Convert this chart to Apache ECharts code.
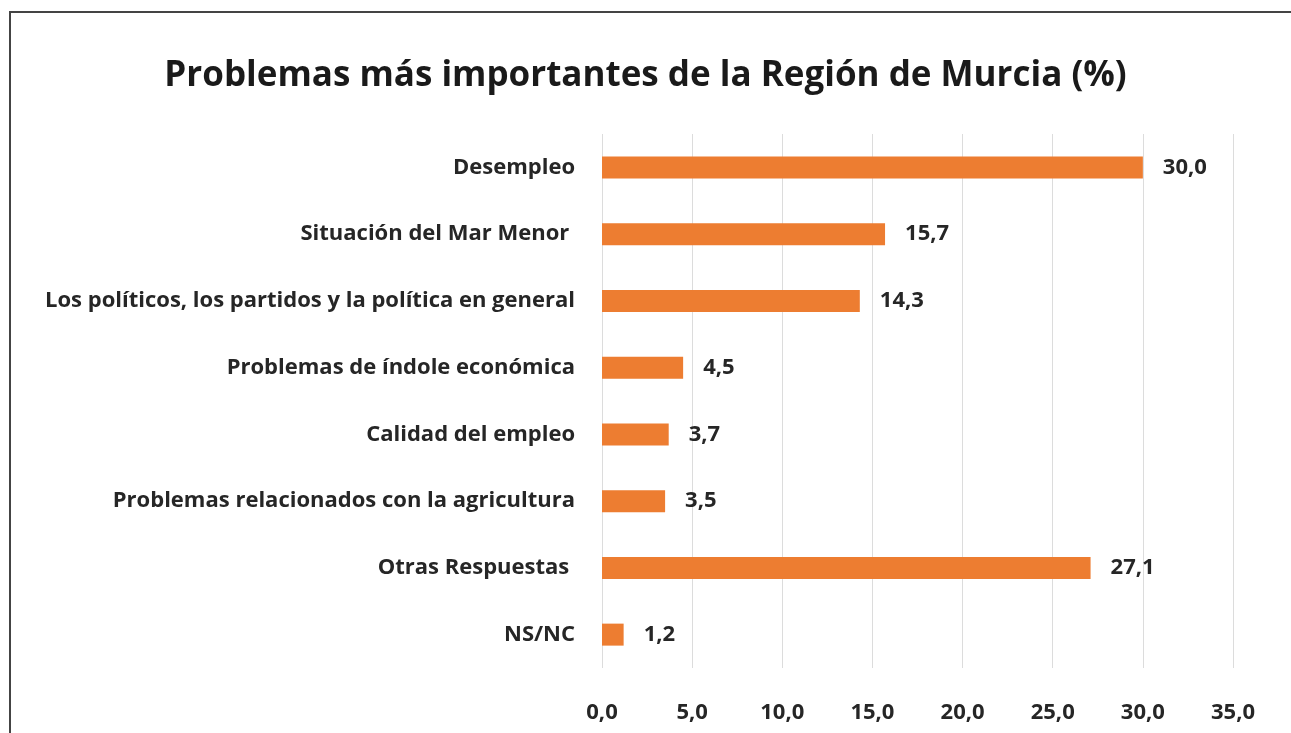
<!DOCTYPE html>
<html>
<head>
<meta charset="utf-8">
<script src="https://cdn.jsdelivr.net/npm/echarts@6/dist/echarts.min.js"></script>
<style>
  html, body { margin: 0; padding: 0; background: #fff; }
  #chart { width: 1291px; height: 733px; }
  #frame { position: absolute; left: 9px; top: 11px; width: 1290px; height: 730px;
    border-left: 2px solid #444; border-top: 2px solid #444; pointer-events: none; }
</style>
</head>
<body>
<div id="chart"></div>
<div id="frame"></div>
<script>
const categories = [
  'Desempleo',
  'Situación del Mar Menor ',
  'Los políticos, los partidos y la política en general',
  'Problemas de índole económica',
  'Calidad del empleo',
  'Problemas relacionados con la agricultura',
  'Otras Respuestas ',
  'NS/NC',
];
const values = [30.0, 15.7, 14.3, 4.5, 3.7, 3.5, 27.1, 1.2];
const tickMin = 0;
const tickMax = 35;
const tickStep = 5;

const fmt = (v) => Number(v).toFixed(1).replace('.', ',');
const font = '"Open Sans", "Noto Sans", sans-serif';

const chart = echarts.init(document.getElementById('chart'));
chart.setOption({
  animation: false,
  title: {
    text: 'Problemas más importantes de la Región de Murcia (%)',
    left: 'center',
    top: 54,
    textStyle: { fontFamily: font, fontSize: 35, fontWeight: 'bold', color: '#1a1a1a' },
  },
  grid: { left: 602, right: 58, top: 134, bottom: 65, containLabel: false },
  xAxis: {
    type: 'value',
    min: tickMin,
    max: tickMax,
    interval: tickStep,
    axisLine: { show: false },
    axisTick: { show: false },
    splitLine: { lineStyle: { color: '#dcdcdc', width: 1 } },
    axisLabel: {
      formatter: fmt,
      margin: 34,
      fontFamily: font, fontSize: 22, fontWeight: 'bold', color: '#262626',
    },
  },
  yAxis: {
    type: 'category',
    data: categories,
    inverse: true,
    axisLine: { show: false },
    axisTick: { show: false },
    axisLabel: {
      margin: 27,
      fontFamily: font, fontSize: 22, fontWeight: 'bold', color: '#262626',
    },
  },
  series: [{
    type: 'bar',
    data: values,
    barWidth: 22,
    itemStyle: { color: '#ED7D31' },
    label: {
      show: true,
      position: 'right',
      distance: 20,
      formatter: (p) => fmt(p.value),
      fontFamily: font, fontSize: 22, fontWeight: 'bold', color: '#262626',
    },
  }],
});
</script>
</body>
</html>
